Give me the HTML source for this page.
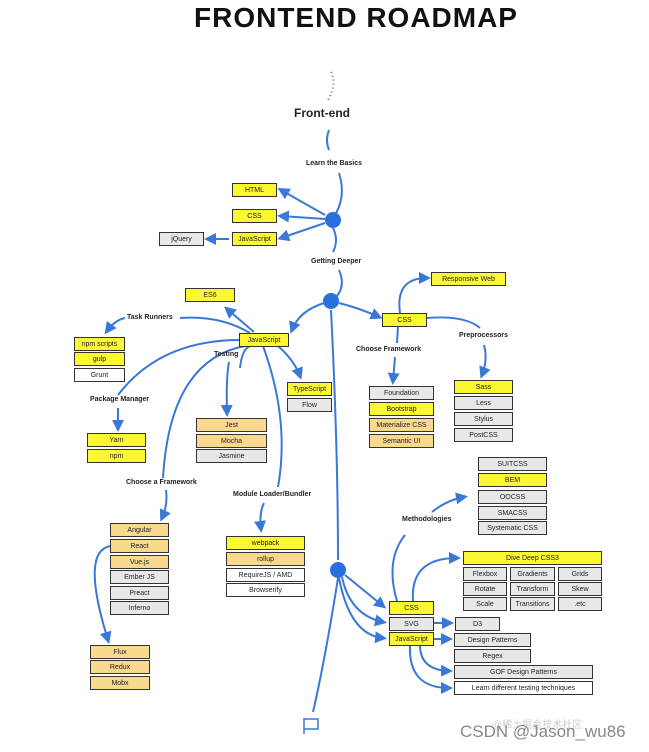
<!DOCTYPE html>
<html><head><meta charset="utf-8"><style>
body{margin:0;width:649px;height:752px;background:#fff;position:relative;overflow:hidden;font-family:"Liberation Sans",sans-serif}
.b{position:absolute;box-sizing:border-box;border:1.5px solid #333;font-size:7px;text-align:center;color:#222;display:flex;align-items:center;justify-content:center;line-height:1}
.y{background:#fcf733}.t{background:#f9d98e}.g{background:#e8e8e8}.w{background:#fff}
.l{position:absolute;font-size:7px;font-weight:bold;color:#222;white-space:nowrap}
svg{position:absolute;left:0;top:0}
</style></head><body>
<svg width="649" height="752" fill="none" stroke="#3a78d8" stroke-width="2">
<defs><marker id="a" markerWidth="6" markerHeight="6" refX="4" refY="3" orient="auto"><path d="M0,0L6,3L0,6z" fill="#3a78d8" stroke="none"/></marker></defs>
<path d="M331,72 q6,12 -3,28" stroke="#777" stroke-dasharray="1,3"/>
<path d="M329,130 q-4,10 0,20"/>
<path d="M339,173 q8,25 -6,45"/>
<path d="M325,215 L281,190" marker-end="url(#a)"/>
<path d="M325,219 L281,216" marker-end="url(#a)"/>
<path d="M325,223 L281,238" marker-end="url(#a)"/>
<path d="M229,239 L208,239" marker-end="url(#a)"/>
<path d="M333,228 q6,12 0,24"/>
<path d="M339,270 q8,18 -6,30"/>
<path d="M324,303 q-25,8 -32,27" marker-end="url(#a)"/>
<path d="M339,303 q20,5 40,14" marker-end="url(#a)"/>
<path d="M331,310 Q338,450 338,560"/>
<path d="M338,578 Q325,660 313,712"/>
<path d="M254,332 L227,309" marker-end="url(#a)"/>
<path d="M250,333 Q220,315 180,318"/>
<path d="M125,318 q-10,2 -18,13" marker-end="url(#a)"/>
<path d="M240,340 Q160,340 118,395"/>
<path d="M118,408 L118,428" marker-end="url(#a)"/>
<path d="M245,346 Q170,360 163,478"/>
<path d="M166,490 q2,15 -4,28" marker-end="url(#a)"/>
<path d="M250,346 q-8,3 -10,22"/>
<path d="M229,362 q-3,15 -2,51" marker-end="url(#a)"/>
<path d="M263,346 Q290,420 278,487"/>
<path d="M264,503 q-5,10 -3,26" marker-end="url(#a)"/>
<path d="M278,346 q16,14 22,30" marker-end="url(#a)"/>
<path d="M111,546 Q80,550 108,640" marker-end="url(#a)"/>
<path d="M400,313 Q395,278 427,278" marker-end="url(#a)"/>
<path d="M398,326 L397,343"/>
<path d="M395,357 L393,381" marker-end="url(#a)"/>
<path d="M427,318 Q465,315 480,328"/>
<path d="M484,345 q4,15 -2,30" marker-end="url(#a)"/>
<path d="M345,575 L383,606" marker-end="url(#a)"/>
<path d="M342,577 Q350,615 383,622" marker-end="url(#a)"/>
<path d="M339,578 Q350,635 383,638" marker-end="url(#a)"/>
<path d="M397,601 Q385,560 405,535"/>
<path d="M432,512 q15,-12 32,-15" marker-end="url(#a)"/>
<path d="M413,601 Q410,558 457,558" marker-end="url(#a)"/>
<path d="M434,623 L450,623" marker-end="url(#a)"/>
<path d="M434,639 L449,639" marker-end="url(#a)"/>
<path d="M420,645 Q420,670 449,671" marker-end="url(#a)"/>
<path d="M410,645 Q408,688 449,688" marker-end="url(#a)"/>
<circle cx="333" cy="220" r="8" fill="#2a6fe0" stroke="none"/>
<circle cx="331" cy="301" r="8" fill="#2a6fe0" stroke="none"/>
<circle cx="338" cy="570" r="8" fill="#2a6fe0" stroke="none"/>
<path d="M304,718 v16 M304,719 h14 v10 h-14" stroke-width="1.5"/>
</svg>
<div style="position:absolute;left:189px;top:2px;width:334px;text-align:center;font-size:28px;font-weight:bold;letter-spacing:1px;color:#111">FRONTEND ROADMAP</div>
<div class="l" style="left:294px;top:106px;font-size:12px">Front-end</div>
<div class="l" style="left:306px;top:160px">Learn the Basics</div>
<div class="l" style="left:311px;top:258px">Getting Deeper</div>
<div class="l" style="left:127px;top:314px">Task Runners</div>
<div class="l" style="left:214px;top:351px">Testing</div>
<div class="l" style="left:90px;top:396px">Package Manager</div>
<div class="l" style="left:126px;top:479px">Choose a Framework</div>
<div class="l" style="left:233px;top:491px">Module Loader/Bundler</div>
<div class="l" style="left:356px;top:346px">Choose Framework</div>
<div class="l" style="left:459px;top:332px">Preprocessors</div>
<div class="l" style="left:402px;top:516px">Methodologies</div>
<div class="b y" style="left:232px;top:183px;width:45px;height:14px">HTML</div>
<div class="b y" style="left:232px;top:209px;width:45px;height:14px">CSS</div>
<div class="b y" style="left:232px;top:232px;width:45px;height:14px">JavaScript</div>
<div class="b g" style="left:159px;top:232px;width:45px;height:14px">jQuery</div>
<div class="b y" style="left:185px;top:288px;width:50px;height:14px">ES6</div>
<div class="b y" style="left:239px;top:333px;width:50px;height:14px">JavaScript</div>
<div class="b y" style="left:74px;top:337px;width:51px;height:14px">npm scripts</div>
<div class="b y" style="left:74px;top:352px;width:51px;height:14px">gulp</div>
<div class="b w" style="left:74px;top:368px;width:51px;height:14px">Grunt</div>
<div class="b y" style="left:287px;top:382px;width:45px;height:14px">TypeScript</div>
<div class="b g" style="left:287px;top:398px;width:45px;height:14px">Flow</div>
<div class="b y" style="left:87px;top:433px;width:59px;height:14px">Yarn</div>
<div class="b y" style="left:87px;top:449px;width:59px;height:14px">npm</div>
<div class="b t" style="left:196px;top:418px;width:71px;height:14px">Jest</div>
<div class="b t" style="left:196px;top:434px;width:71px;height:14px">Mocha</div>
<div class="b g" style="left:196px;top:449px;width:71px;height:14px">Jasmine</div>
<div class="b t" style="left:110px;top:523px;width:59px;height:14px">Angular</div>
<div class="b t" style="left:110px;top:539px;width:59px;height:14px">React</div>
<div class="b t" style="left:110px;top:555px;width:59px;height:14px">Vue.js</div>
<div class="b g" style="left:110px;top:570px;width:59px;height:14px">Ember JS</div>
<div class="b g" style="left:110px;top:586px;width:59px;height:14px">Preact</div>
<div class="b g" style="left:110px;top:601px;width:59px;height:14px">Inferno</div>
<div class="b t" style="left:90px;top:645px;width:60px;height:14px">Flux</div>
<div class="b t" style="left:90px;top:660px;width:60px;height:14px">Redux</div>
<div class="b t" style="left:90px;top:676px;width:60px;height:14px">Mobx</div>
<div class="b y" style="left:226px;top:536px;width:79px;height:14px">webpack</div>
<div class="b t" style="left:226px;top:552px;width:79px;height:14px">rollup</div>
<div class="b w" style="left:226px;top:568px;width:79px;height:14px">RequireJS / AMD</div>
<div class="b w" style="left:226px;top:583px;width:79px;height:14px">Browserify</div>
<div class="b y" style="left:431px;top:272px;width:75px;height:14px">Responsive Web</div>
<div class="b y" style="left:382px;top:313px;width:45px;height:14px">CSS</div>
<div class="b g" style="left:369px;top:386px;width:65px;height:14px">Foundation</div>
<div class="b y" style="left:369px;top:402px;width:65px;height:14px">Bootstrap</div>
<div class="b t" style="left:369px;top:418px;width:65px;height:14px">Materialize CSS</div>
<div class="b t" style="left:369px;top:434px;width:65px;height:14px">Semantic UI</div>
<div class="b y" style="left:454px;top:380px;width:59px;height:14px">Sass</div>
<div class="b g" style="left:454px;top:396px;width:59px;height:14px">Less</div>
<div class="b g" style="left:454px;top:412px;width:59px;height:14px">Stylus</div>
<div class="b g" style="left:454px;top:428px;width:59px;height:14px">PostCSS</div>
<div class="b g" style="left:478px;top:457px;width:69px;height:14px">SUITCSS</div>
<div class="b y" style="left:478px;top:473px;width:69px;height:14px">BEM</div>
<div class="b g" style="left:478px;top:490px;width:69px;height:14px">OOCSS</div>
<div class="b g" style="left:478px;top:506px;width:69px;height:14px">SMACSS</div>
<div class="b g" style="left:478px;top:521px;width:69px;height:14px">Systematic CSS</div>
<div class="b y" style="left:463px;top:551px;width:139px;height:14px">Dive Deep CSS3</div>
<div class="b g" style="left:463px;top:567px;width:44px;height:14px">Flexbox</div>
<div class="b g" style="left:510px;top:567px;width:45px;height:14px">Gradients</div>
<div class="b g" style="left:558px;top:567px;width:44px;height:14px">Grids</div>
<div class="b g" style="left:463px;top:582px;width:44px;height:14px">Rotate</div>
<div class="b g" style="left:510px;top:582px;width:45px;height:14px">Transform</div>
<div class="b g" style="left:558px;top:582px;width:44px;height:14px">Skew</div>
<div class="b g" style="left:463px;top:597px;width:44px;height:14px">Scale</div>
<div class="b g" style="left:510px;top:597px;width:45px;height:14px">Transitions</div>
<div class="b g" style="left:558px;top:597px;width:44px;height:14px">.etc</div>
<div class="b y" style="left:389px;top:601px;width:45px;height:14px">CSS</div>
<div class="b g" style="left:389px;top:617px;width:45px;height:14px">SVG</div>
<div class="b y" style="left:389px;top:632px;width:45px;height:14px">JavaScript</div>
<div class="b g" style="left:455px;top:617px;width:45px;height:14px">D3</div>
<div class="b g" style="left:454px;top:633px;width:77px;height:14px">Design Patterns</div>
<div class="b g" style="left:454px;top:649px;width:77px;height:14px">Regex</div>
<div class="b g" style="left:454px;top:665px;width:139px;height:14px">GOF Design Patterns</div>
<div class="b w" style="left:454px;top:681px;width:139px;height:14px">Learn different testing techniques</div>
<div style="position:absolute;left:492px;top:716px;font-size:10px;color:#ccc;font-family:'Liberation Sans','Noto Sans CJK SC',sans-serif">@稀土掘金技术社区</div>
<div style="position:absolute;left:460px;top:722px;font-size:17px;color:#888;font-family:'Liberation Sans',sans-serif">CSDN @Jason_wu86</div>
</body></html>
